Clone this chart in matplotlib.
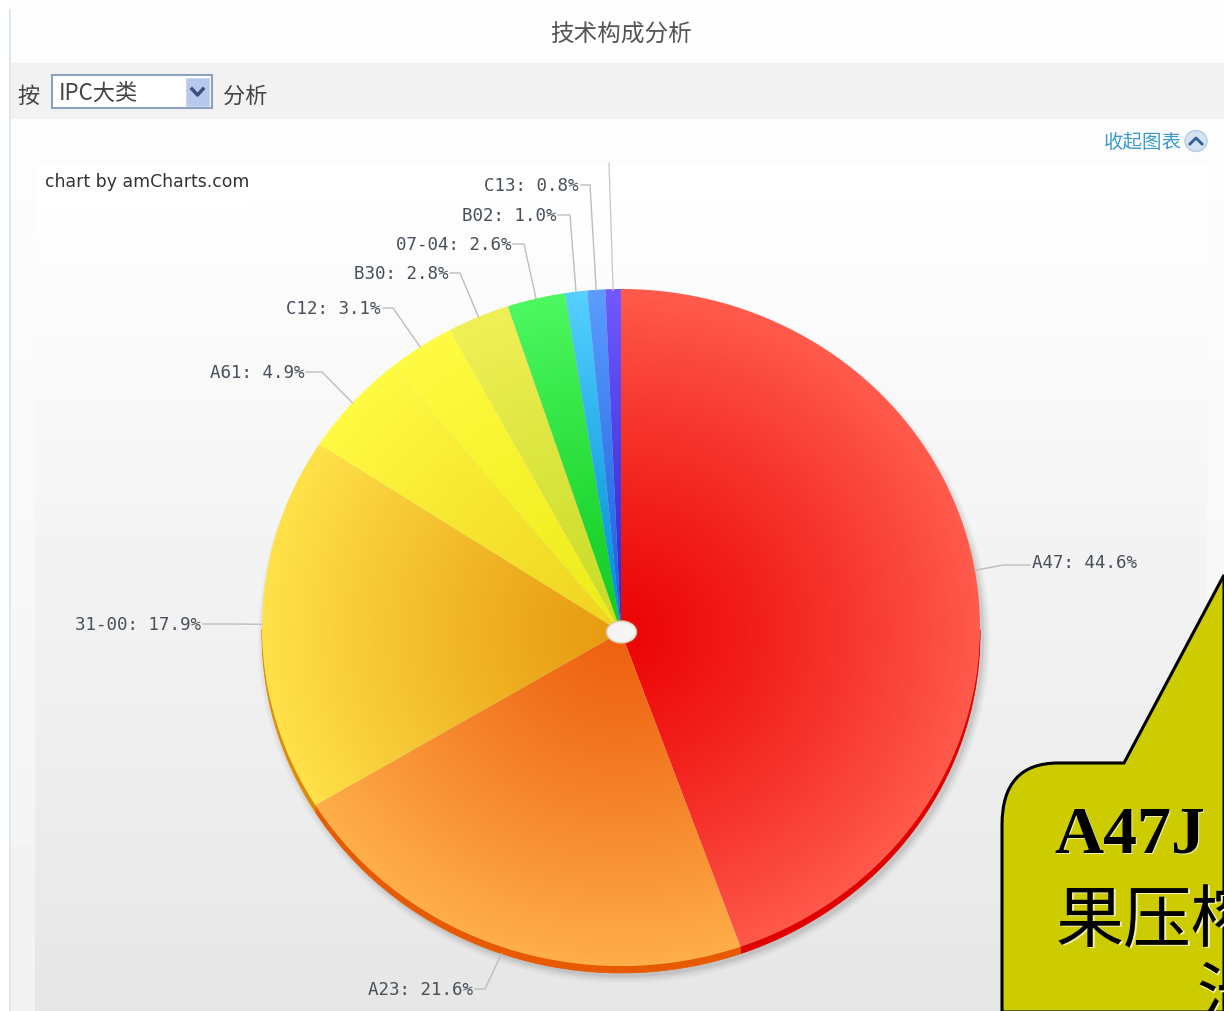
# Pie chart from a patent analysis page (amCharts screenshot)

import numpy as np
import matplotlib
matplotlib.use("Agg")
import matplotlib.pyplot as plt
from matplotlib.patches import Polygon, Ellipse, Rectangle, PathPatch
from matplotlib.path import Path

plt.rcParams["font.family"] = ["Noto Sans CJK SC", "DejaVu Sans"]

# data
names = ["A47", "A23", "31-00", "A61", "C12", "B30", "07-04", "B02", "C13", ""]
values = [44.6, 21.6, 17.9, 4.9, 3.1, 2.8, 2.6, 1.0, 0.8, 0.7]

inner_colors = ["#EC0505", "#EE6010", "#E89A10", "#F0D420", "#EEEC1A", "#C8DC28",
                "#12CC22", "#0090D8", "#1C60E0", "#2A2AD0"]
outer_colors = ["#FF5A4C", "#FFB04A", "#FFE24A", "#FFFA42", "#FFFB42", "#F0F056",
                "#4CF860", "#55D0FF", "#5C9CFF", "#7258FF"]
side_colors = ["#E00000", "#E85A00", "#E08A00", "#E0B000", "#E0D000", "#B0C000",
               "#10B010", "#0080C0", "#1050C0", "#2020B0"]

# where each label sits: text anchor x, y and where its leader bends
label_pos = [
    (1032, 562, "left", 1003, 565),
    (473, 989, "right", 485, 989),
    (201, 624, "right", 232, 624),
    (304, 372, "right", 322, 372),
    (381, 308, "right", 393, 308),
    (448, 273, "right", 460, 273),
    (511, 244, "right", 524, 244),
    (556, 215, "right", 570, 215),
    (579, 185, "right", 590, 185),
    (609, 163, "right", 609, 163),
]

# pie geometry in picture pixels
cx, cy = 621, 627.5
rx, ry = 359, 338.5
apex_y = 632
depth = 7

fig = plt.figure(figsize=(12.24, 10.11), dpi=100)
ax = fig.add_axes([0, 0, 1, 1])
ax.set_xlim(0, 1224)
ax.set_ylim(1011, 0)
ax.axis("off")


def vgrad(x0, x1, y0, y1, c0, c1, z):
    g = np.linspace(c0, c1, 256).reshape(-1, 1)
    ax.imshow(g, extent=(x0, x1, y1, y0), cmap="gray", vmin=0, vmax=255,
              aspect="auto", zorder=z, interpolation="bilinear")


# page background
ax.add_patch(Rectangle((0, 0), 1224, 1011, fc="white", ec="none", zorder=0))
ax.add_patch(Rectangle((10, 0), 1214, 63, fc="#FEFEFE", ec="none", zorder=1))
ax.add_patch(Rectangle((10, 63), 1214, 56, fc="#F2F2F2", ec="none", zorder=1))
vgrad(10, 1224, 119, 1011, 253, 242, 1)
vgrad(35, 1207, 165, 1011, 255, 230, 2)
ax.plot([10, 10], [10, 1011], color="#DCE8F2", lw=1.5, zorder=3)

# soft shadow under the pie
for grow, a in zip([7, 5, 3, 1], [0.04, 0.05, 0.07, 0.10]):
    ax.add_patch(Ellipse((cx + 3, cy + depth + 3), 2 * (rx + grow), 2 * (ry + grow),
                         fc="#555555", ec="none", alpha=a, zorder=4))

# slices, clockwise from the top
stops = np.cumsum([0] + values) / sum(values) * 2 * np.pi
xx, yy = np.meshgrid(np.arange(240, 1000), np.arange(270, 990))
tt = np.clip(np.hypot((xx + 0.5 - cx) / rx, (yy + 0.5 - apex_y) / ry), 0, 1) ** 1.2
leaders = []

for i in range(len(values)):
    th = np.linspace(stops[i], stops[i + 1], 200)
    arc_x = cx + rx * np.sin(th)
    arc_y = cy - ry * np.cos(th)
    pts = np.column_stack([np.r_[cx, arc_x], np.r_[apex_y, arc_y]])

    # side of the disc, only seen on the lower half
    low = th[np.cos(th) < 0]
    if len(low):
        sx = cx + rx * np.sin(low)
        sy = cy - ry * np.cos(low)
        side = np.column_stack([np.r_[sx, sx[::-1]], np.r_[sy, sy[::-1] + depth]])
        ax.add_patch(Polygon(side, fc=side_colors[i], ec=side_colors[i], lw=0.5, zorder=5))

    c0 = np.array(matplotlib.colors.to_rgb(inner_colors[i]))
    c1 = np.array(matplotlib.colors.to_rgb(outer_colors[i]))
    img = c0 + (c1 - c0) * tt[..., None]
    im = ax.imshow(img, extent=(240, 1000, 990, 270), aspect="auto", zorder=6,
                   interpolation="bilinear")
    patch = Polygon(pts, closed=True, fc="none", ec="none", transform=ax.transData)
    ax.add_patch(patch)
    im.set_clip_path(patch)

    mid = (stops[i] + stops[i + 1]) / 2
    end_x = cx + rx * np.sin(mid)
    end_y = cy - ry * np.cos(mid)
    if np.cos(mid) < -0.5:
        end_y += depth
    leaders.append((end_x, end_y))

ax.set_xlim(0, 1224)
ax.set_ylim(1011, 0)

# hole in the middle
ax.add_patch(Ellipse((621.5, apex_y), 30, 22, fc="#F4F4F4", ec="#D8C8B0", lw=1, zorder=7))

# labels and leader lines
for name, value, pos, end in zip(names, values, label_pos, leaders):
    tx, ty, ha, bx, by = pos
    if name:
        ax.text(tx, ty + 1, f"{name}: {value:.1f}%", ha=ha, va="center", fontsize=12.6,
                family="DejaVu Sans Mono", color="#48505A", zorder=9)
        start = tx + (-2 if ha == "left" else 2)
        ax.plot([start, bx, end[0]], [by, by, end[1]], color="#BEBEBE", lw=1, zorder=8)
    else:
        ax.plot([bx, end[0]], [by, end[1] + 1], color="#CCCCCC", lw=1, zorder=8)

ax.add_patch(Rectangle((35, 165), 217, 40, fc="white", ec="none", zorder=3))
ax.text(45, 182, "chart by amCharts.com", ha="left", va="center", fontsize=12.4,
        family="DejaVu Sans", color="#333333", zorder=9)

# page controls
ax.text(621, 35, "技术构成分析", ha="center", va="center", fontsize=17, color="#555555", zorder=9)
ax.text(29, 96, "按", ha="center", va="center", fontsize=16, color="#444444", zorder=9)
ax.text(245, 96, "分析", ha="center", va="center", fontsize=16, color="#444444", zorder=9)
ax.add_patch(Rectangle((52, 75), 160, 33, fc="white", ec="#8DA2BD", lw=1.5, zorder=8))
ax.add_patch(Rectangle((186, 78), 23, 28, fc="#B8C9F0", ec="#C8D4F0", lw=0.8, zorder=9))
ax.plot([192, 197.5, 203], [89, 95, 89], color="#3A4E80", lw=2.5, zorder=10)
ax.text(59, 93, "IPC大类", ha="left", va="center", fontsize=16, color="#444444", zorder=9)

ax.text(1182, 143, "收起图表", ha="right", va="center", fontsize=14, color="#3A9AD0", zorder=9)
ax.add_patch(Ellipse((1196, 141), 22, 21, fc="#D4E2F2", ec="#B4CCE4", lw=1, zorder=9))
ax.plot([1190, 1196, 1202], [144, 138, 144], color="#2E5F98", lw=2, zorder=10)

# callout over the corner of the chart
verts = [(1224, 575), (1124, 763), (1058, 763), (1002, 763), (1002, 825), (1002, 1012),
         (1224, 1012), (1224, 575)]
codes = [Path.MOVETO, Path.LINETO, Path.LINETO, Path.CURVE3, Path.CURVE3, Path.LINETO,
         Path.LINETO, Path.CLOSEPOLY]
ax.add_patch(PathPatch(Path(verts, codes), fc="#CCCC00", ec="black", lw=2.2, zorder=11))

for dx, col, z in [(1.5, "#F0F0B0", 12), (0, "black", 13)]:
    ax.text(1054 + dx, 836 + dx, "A47J", ha="left", va="center", fontsize=49, weight="bold",
            family="Liberation Serif", color=col, zorder=z, clip_on=True)
    ax.text(1056 + dx, 923 + dx, "果压榨", ha="left", va="center", fontsize=49,
            color=col, zorder=z, clip_on=True)
    ax.text(1196 + dx, 1000 + dx, "汁", ha="left", va="center", fontsize=49,
            color=col, zorder=z, clip_on=True)

fig.savefig("out.png", dpi=100)
